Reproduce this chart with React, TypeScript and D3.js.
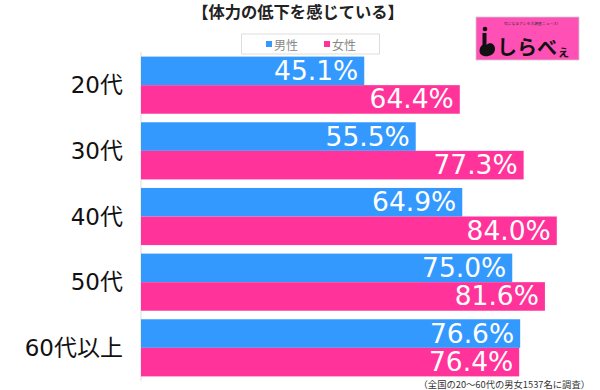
import React from "react";
import * as d3 from "d3";

const categories = ["20代", "30代", "40代", "50代", "60代以上"];
const seriesNames = ["男性", "女性"];
const maleValues = [45.1, 55.5, 64.9, 75.0, 76.6];
const femaleValues = [64.4, 77.3, 84.0, 81.6, 76.4];
const colors = ["#3399ff", "#ff3399"];
const title = "【体力の低下を感じている】";
const footnote = "（全国の20～60代の男女1537名に調査）";

const W = 600;
const H = 390;

export default function App() {
  const y = d3.scaleBand<string>().domain(categories).range([52, 381]).paddingInner(0.13).paddingOuter(0.07);
  const ys = d3.scaleBand<string>().domain(seriesNames).range([0, y.bandwidth()]);
  const x = d3.scaleLinear().domain([0, 90]).range([141, 586.5]);
  const series = [maleValues, femaleValues];
  const numFont = "'DejaVu Sans', 'Noto Sans CJK JP', sans-serif";
  const jpFont = "'Noto Sans CJK JP', sans-serif";

  return (
    <svg width={W} height={H} style={{ position: "absolute", left: 0, top: 0, background: "#fff" }}>
      <text x={298} y={11} textAnchor="middle" dominantBaseline="central" fontFamily={jpFont} fontWeight="bold" fontSize={16.3} fill="#222">
        {title}
      </text>
      {/* legend */}
      <rect x={241.5} y={34} width={138} height={20} fill="#fff" stroke="#ddd" strokeWidth={1} />
      {seriesNames.map((s, i) => (
        <g key={s} transform={`translate(${266 + i * 58},44)`}>
          <rect x={0} y={-3} width={6} height={6} fill={colors[i]} />
          <text x={8} y={0} dominantBaseline="central" fontFamily={jpFont} fontSize={12} fill="#888">{s}</text>
        </g>
      ))}
      {/* logo */}
      <g>
        <rect x={476} y={17} width={103} height={43} fill="#ff50b6" stroke="#ccc" strokeWidth={0.8} />
        <text x={531} y={23} textAnchor="middle" dominantBaseline="central" fontFamily={jpFont} fontSize={3.8} fill="#333">気になるアレを大調査ニュース!</text>
        <circle cx={485} cy={29} r={2.3} fill="#111" />
        <path d="M482.5,33 L486.5,33 L486.5,45 C489,42 495,43 495,49 C495,55 488,57 484,56 C479.5,55 478.5,51 480.5,47 L482.5,44.5 Z" fill="#111" />
        <text x={497} y={46} dominantBaseline="central" fontFamily={jpFont} fontWeight="bold" fontSize={20} fill="#111">しらべ</text>
        <text x={557} y={50} dominantBaseline="central" fontFamily={jpFont} fontWeight="bold" fontSize={13} fill="#111">ぇ</text>
      </g>
      {/* axis line */}
      <line x1={141} x2={141} y1={52} y2={381} stroke="#ddd" strokeWidth={1} />
      {categories.map((c, ci) => (
        <g key={c}>
          <text x={123} y={(y(c) as number) + y.bandwidth() / 2} textAnchor="end" dominantBaseline="central" fontFamily={numFont} fontSize={23} fill="#111">
            {c}
          </text>
          {seriesNames.map((s, si) => {
            const v = series[si][ci];
            const top = (y(c) as number) + (ys(s) as number);
            return (
              <g key={s}>
                <rect x={x(0)} y={top} width={x(v) - x(0)} height={ys.bandwidth()} fill={colors[si]} />
                <text x={x(v) - 6} y={top + ys.bandwidth() / 2 - 0.5} textAnchor="end" dominantBaseline="central" fontFamily={numFont} fontSize={26.5} fill="#fff">
                  {v.toFixed(1) + "%"}
                </text>
              </g>
            );
          })}
        </g>
      ))}
      <text x={590} y={384} textAnchor="end" dominantBaseline="central" fontFamily={jpFont} fontSize={9.3} fill="#333">
        {footnote}
      </text>
    </svg>
  );
}
